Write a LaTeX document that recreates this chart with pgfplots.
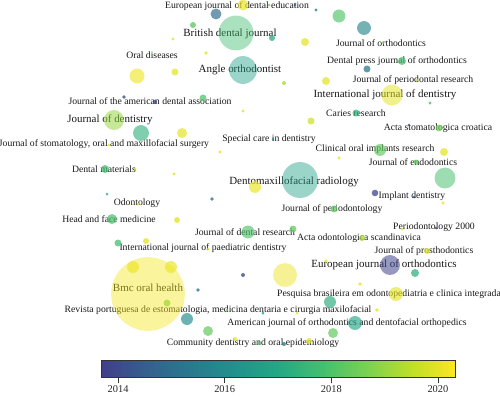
\documentclass[border=0pt]{standalone}
\usepackage{pgfplots}
\pgfplotsset{compat=1.18}
\usepackage{pgfplotstable}
\usepackage{fontspec}
\setmainfont{Liberation Serif}
\usetikzlibrary{calc}

\pgfplotsset{colormap={vir}{rgb255=(66,62,138) rgb255=(53,95,141) rgb255=(42,120,142) rgb255=(33,145,140) rgb255=(34,168,132) rgb255=(68,191,112) rgb255=(122,209,81) rgb255=(189,223,38) rgb255=(253,231,37)}}

% x y in pixels (y downward), r radius in px, yr = average publication year
\pgfplotstableread{
x y r yr
148 294 37 2020.2
300 180 18 2016.7
236 33 17.5 2017.8
243 70 14 2016.7
285 275 12 2020.1
445 178 10.5 2017.9
392 95 10.5 2020.0
114 120 10 2019.0
390 265 10 2013.8
141 133 8 2017.3
137 76 7.5 2020.1
364 28 7 2015.8
355 323 7 2016.9
396 294 7 2020.0
248 232 6.5 2018.0
339 16 6.5 2018.0
255 187 6 2020.1
330 302 6 2017.2
187 319 6 2016.0
380 150 6 2018.3
133 267 6 2020.1
171 267 6 2020.1
216 14 5.5 2015.0
243 5 5.5 2020.1
182 133 5 2020.0
112 219 5 2017.9
208 331 5 2018.3
333 333 5 2018.3
305 42 4 2020.0
326 81 4 2020.0
444 152 4 2020.0
105 169 4 2017.8
415 273 4 2017.3
402 61 4 2017.9
311 121 3.5 2019.7
367 69 3.5 2015.3
203 98 3.5 2018.0
118 243 3.5 2017.8
293 229 3.5 2018.3
334 209 3.5 2018.2
356 113 3.5 2017.4
439 128 3.5 2018.5
175 72 3.5 2020.0
167 303 3.5 2019.2
375 193 3.3 2013.9
193 25 3 2018.2
272 38 3 2017.2
146 241 3 2020.0
177 220 3 2020.0
362 238 3 2019.2
427 251 3 2019.9
309 341 3 2020.0
416 162 2.5 2018.3
155 102 2.2 2014.0
284 83 2 2019.3
243 275 2 2014.0
259 343 2 2018.0
284 344 2 2015.5
235 339 2 2020.0
198 290 1.8 2015.2
212 199 1.8 2015.2
124 97 1.8 2014.0
206 53 1.8 2020.0
326 261 1.8 2020.0
360 284 1.8 2020.0
377 310 1.8 2020.0
173 39 1.7 2020.0
243 111 1.7 2020.0
220 152 1.7 2020.0
174 174 1.7 2020.0
316 10 1.7 2015.5
430 103 1.7 2018.0
339 158 1.7 2020.0
443 203 1.7 2020.0
109 145 1.5 2020.0
135 169 1.5 2019.5
107 194 1.5 2017.3
138 204 1.5 2020.0
152 55 1.5 2018.3
269 5 1.5 2018.5
295 5 1.5 2014.0
383 43 1.5 2018.7
417 80 1.5 2019.5
409 125 1.5 2014.0
273 139 1.5 2016.0
414 197 1.5 2014.0
402 229 1.5 2020.0
436 228 1.5 2014.0
208 249 1.5 2019.8
263 313 1.5 2016.5
297 313 1.5 2020.0
227 310 1.5 2018.5
}\bubbles

\newcommand{\smf}{\fontsize{6.9}{7}\selectfont}
\newcommand{\lgf}{\fontsize{7.8}{8}\selectfont}

\begin{document}
\begin{tikzpicture}
\useasboundingbox (0,0) rectangle (12.5cm,9.975cm);
\begin{axis}[
  at={(0,0)}, anchor=south west,
  scale only axis, width=12.5cm, height=9.975cm,
  xmin=0, xmax=500, ymin=0, ymax=399, y dir=reverse,
  hide axis, clip=false,
  colormap name=vir,
  point meta min=2013.68, point meta max=2020.32,
  colorbar horizontal,
  colorbar style={
    at={($(parent axis.south west)+(2.525cm,0.85cm)$)}, anchor=south west,
    width=8.85cm, height=0.425cm,
    xtick={2014,2016,2018,2020},
    xtick align=outside, major tick length=0.16cm,
    xtick pos=left,
    axis line style={black!80, line width=0.5pt},
    xtick style={black!80, line width=0.5pt},
    xticklabel style={font=\fontsize{7.4}{8}\selectfont, text=black!85, inner sep=1.5pt},
    /pgf/number format/assume math mode=true,
    /pgf/number format/1000 sep={},
  },
]
\addplot[scatter, only marks, mark=*,
  point meta=\thisrow{yr},
  visualization depends on={max(0.45,0.85-0.03*\thisrow{r}) \as \op},
  scatter/use mapped color={draw opacity=0, fill=mapped color, fill opacity=\op},
  visualization depends on={0.7087*\thisrow{r} \as \rad},
  scatter/@pre marker code/.append style={/tikz/mark size=\rad pt},
] table {\bubbles};

\begin{scope}[every node/.style={inner sep=0pt, text=black!90}]
\node[font=\smf] at (axis cs:237,6) {European journal of dental education};
\node[font=\lgf] at (axis cs:230,34) {British dental journal};
\node[font=\smf] at (axis cs:381,43) {Journal of orthodontics};
\node[font=\smf] at (axis cs:152,55) {Oral diseases};
\node[font=\lgf] at (axis cs:240,70) {Angle orthodontist};
\node[font=\smf] at (axis cs:397,61) {Dental press journal of orthodontics};
\node[font=\smf] at (axis cs:413,80) {Journal of periodontal research};
\node[font=\lgf] at (axis cs:385,95) {International journal of dentistry};
\node[font=\smf] at (axis cs:150,101) {Journal of the american dental association};
\node[font=\lgf] at (axis cs:110,120) {Journal of dentistry};
\node[font=\smf] at (axis cs:356,113) {Caries research};
\node[font=\smf] at (axis cs:438,128) {Acta stomatologica croatica};
\node[font=\smf] at (axis cs:104,144) {Journal of stomatology, oral and maxillofacial surgery};
\node[font=\smf] at (axis cs:269,139) {Special care in dentistry};
\node[font=\smf] at (axis cs:375,149) {Clinical oral implants research};
\node[font=\smf] at (axis cs:413,162) {Journal of endodontics};
\node[font=\smf] at (axis cs:104,169) {Dental materials};
\node[font=\lgf] at (axis cs:294,182) {Dentomaxillofacial radiology};
\node[font=\smf] at (axis cs:412,196) {Implant dentistry};
\node[font=\smf] at (axis cs:137,203) {Odontology};
\node[font=\smf] at (axis cs:332,209) {Journal of periodontology};
\node[font=\smf] at (axis cs:109,219) {Head and face medicine};
\node[font=\smf] at (axis cs:434,227) {Periodontology 2000};
\node[font=\smf] at (axis cs:245,232) {Journal of dental research};
\node[font=\smf] at (axis cs:359,238) {Acta odontologica scandinavica};
\node[font=\smf] at (axis cs:203,248) {International journal of paediatric dentistry};
\node[font=\smf] at (axis cs:424,251) {Journal of prosthodontics};
\node[font=\lgf] at (axis cs:384,265) {European journal of orthodontics};
\node[font=\lgf] at (axis cs:148,288) {Bmc oral health};
\node[font=\smf] at (axis cs:389,294) {Pesquisa brasileira em odontopediatria e clinica integrada};
\node[font=\smf] at (axis cs:218,310) {Revista portuguesa de estomatologia, medicina dentaria e cirurgia maxilofacial};
\node[font=\smf] at (axis cs:347,323) {American journal of orthodontics and dentofacial orthopedics};
\node[font=\smf] at (axis cs:253,343) {Community dentistry and oral epidemiology};
\end{scope}
\end{axis}
\end{tikzpicture}
\end{document}
